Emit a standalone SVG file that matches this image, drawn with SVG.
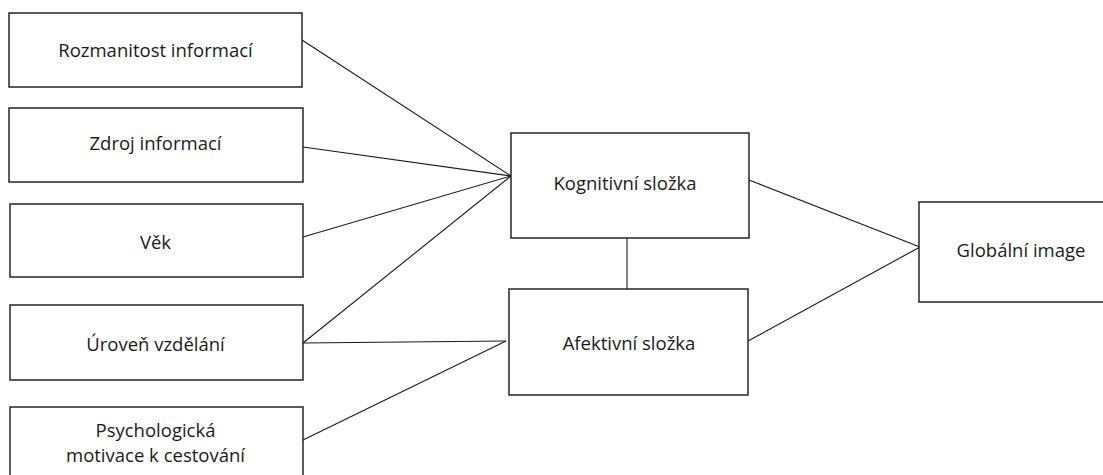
<svg xmlns="http://www.w3.org/2000/svg" width="1103" height="475" viewBox="0 0 1103 475">
<style>
.box{fill:#fff;stroke:#262626;stroke-width:1.5}
.t{font-family:"Open Sans","Liberation Sans",sans-serif;font-size:18.5px;fill:#1a1a1a;text-anchor:middle}
.c{stroke:#1a1a1a;stroke-width:1.1;fill:none}
</style>
<rect width="1103" height="475" fill="#fff"/>
<g id="connectors">
<line class="c" x1="302" y1="40" x2="511" y2="176"/>
<line class="c" x1="303" y1="147" x2="511" y2="176"/>
<line class="c" x1="303" y1="237" x2="511" y2="176"/>
<line class="c" x1="303" y1="343" x2="511" y2="176"/>
<line class="c" x1="303" y1="343" x2="506" y2="341"/>
<line class="c" x1="303" y1="440" x2="506" y2="341"/>
<line class="c" x1="627" y1="238" x2="627" y2="289"/>
<line class="c" x1="749" y1="180" x2="920" y2="247"/>
<line class="c" x1="748" y1="341" x2="920" y2="247"/>
</g>
<g id="n1"><rect class="box" x="9" y="13" width="293" height="74"/><text class="t" x="155.5" y="57">Rozmanitost informací</text></g>
<g id="n2"><rect class="box" x="9" y="108" width="294" height="74"/><text class="t" x="155.5" y="150">Zdroj informací</text></g>
<g id="n3"><rect class="box" x="10" y="204" width="293" height="73"/><text class="t" x="155.5" y="249">Věk</text></g>
<g id="n4"><rect class="box" x="10" y="305" width="293" height="75"/><text class="t" x="155.5" y="351">Úroveň vzdělání</text></g>
<g id="n5"><rect class="box" x="10" y="407" width="293" height="80"/><text class="t" x="155.5" y="437">Psychologická</text><text class="t" x="155.5" y="462">motivace k cestování</text></g>
<g id="n6"><rect class="box" x="511" y="133" width="238" height="105"/><text class="t" x="625" y="190">Kognitivní složka</text></g>
<g id="n7"><rect class="box" x="509" y="289" width="239" height="106"/><text class="t" x="629" y="350">Afektivní složka</text></g>
<g id="n8"><rect class="box" x="919" y="202" width="200" height="100"/><text class="t" x="1021" y="257">Globální image</text></g>
</svg>
